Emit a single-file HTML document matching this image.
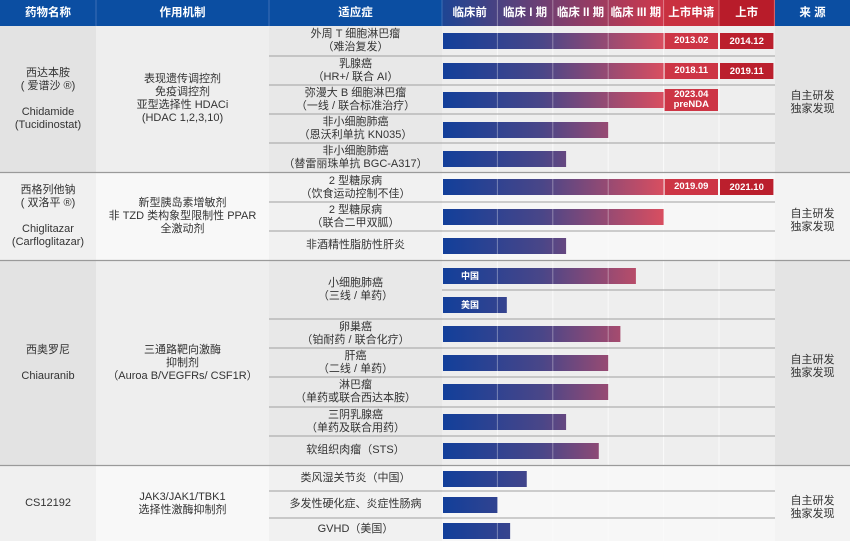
<!DOCTYPE html>
<html><head><meta charset="utf-8">
<style>
body{margin:0;width:850px;height:541px;overflow:hidden;background:#fff;font-family:"Liberation Sans","Noto Sans CJK SC",sans-serif;}
#root{position:relative;width:850px;height:541px;}
.c{position:absolute;display:flex;align-items:center;justify-content:center;text-align:center;font-size:11px;line-height:13px;color:#333;box-sizing:border-box;}
.h{color:#fff;font-weight:bold;font-size:11.5px;top:0;height:26px;}
</style></head><body>
<div id="root">
<svg id="bg" width="850" height="541" style="position:absolute;left:0;top:0">
<defs>
<linearGradient id="hg" gradientUnits="userSpaceOnUse" x1="442" x2="664" y1="0" y2="0"><stop offset="0" stop-color="#1d4594"/><stop offset="1" stop-color="#d0384b"/></linearGradient>
<linearGradient id="bg1" gradientUnits="userSpaceOnUse" x1="443" x2="664" y1="0" y2="0"><stop offset="0" stop-color="#123f9a"/><stop offset="0.45" stop-color="#4a4688"/><stop offset="1" stop-color="#d94e60"/></linearGradient>
</defs>
</svg>
</div>
<script>
// chart data
const indications=["外周 T 细胞淋巴瘤|（难治复发）","乳腺癌|（HR+/ 联合 AI）","弥漫大 B 细胞淋巴瘤|（一线 / 联合标准治疗）","非小细胞肺癌|（恩沃利单抗 KN035）","非小细胞肺癌|（替雷丽珠单抗 BGC-A317）","2 型糖尿病|（饮食运动控制不佳）","2 型糖尿病|（联合二甲双胍）","非酒精性脂肪性肝炎","小细胞肺癌|（三线 / 单药）","卵巢癌|（铂耐药 / 联合化疗）","肝癌|（二线 / 单药）","淋巴瘤|（单药或联合西达本胺）","三阴乳腺癌|（单药及联合用药）","软组织肉瘤（STS）","类风湿关节炎（中国）","多发性硬化症、炎症性肠病","GVHD（美国）"];
const barProgress=[6,6,4,3,2.24,6,4,2.24,3.5,1.17,3.22,3,3,2.24,2.83,1.53,1.0,1.23];
const barLabels=["","","","","","","","","中国","美国","","","","","","","",""];
const filingDates=["2013.02","2018.11","2023.04|preNDA","","","2019.09","","","","","","","","","","","",""];
const approvalDates=["2014.12","2019.11","","","","2021.10","","","","","","","","","","","",""];
const phases=["临床前","临床 I 期","临床 II 期","临床 III 期","上市申请","上市"];

// layout
const PX0=442,PW=55.4;
const xs=v=>PX0+v*PW;
const barY=[41,71,100,130,159,187,217,246,276,305,334,363,392,422,451,479,505,531];
const rowBounds=[[26,56],[56,85],[85,114],[114,143],[143,172],[173,202],[202,231],[231,260],[261,319],[319,348],[348,377],[377,407],[407,436],[436,465],[466,491],[491,518],[518,541]];
const groups=[[26,172,"西达本胺|( 爱谱沙 ®)||Chidamide|(Tucidinostat)","表现遗传调控剂|免疫调控剂|亚型选择性 HDACi|(HDAC 1,2,3,10)",true],[173,260,"西格列他钠|( 双洛平 ®)||Chiglitazar|(Carfloglitazar)","新型胰岛素增敏剂|非 TZD 类构象型限制性 PPAR|全激动剂",false],[261,465,"西奥罗尼||Chiauranib","三通路靶向激酶|抑制剂|（Auroa B/VEGFRs/ CSF1R）",true],[466,541,"CS12192","JAK3/JAK1/TBK1|选择性激酶抑制剂",false]];
const svg=document.getElementById('bg'),root=document.getElementById('root'),NS="http://www.w3.org/2000/svg";
function R(x,y,w,h,f,n){const r=document.createElementNS(NS,'rect');r.setAttribute('x',x);r.setAttribute('y',y);r.setAttribute('width',w);r.setAttribute('height',h);r.setAttribute('fill',f);


svg.appendChild(r);return r;}
function L(x1,y1,x2,y2,c,w){const l=document.createElementNS(NS,'line');l.setAttribute('x1',x1);l.setAttribute('y1',y1);l.setAttribute('x2',x2);l.setAttribute('y2',y2);l.setAttribute('stroke',c);l.setAttribute('stroke-width',w);


svg.appendChild(l);}
function C(x,y,w,h,html,n,extra){const d=document.createElement('div');d.className='c'+(extra||'');d.style.left=x+'px';d.style.top=y+'px';d.style.width=w+'px';d.style.height=h+'px';d.innerHTML=html.split('|').join('<br>');


root.appendChild(d);return d;}
// group backgrounds
groups.forEach((g,i)=>{const dark=g[4];const h=g[1]-g[0];
R(0,g[0],96,h,dark?'#e3e3e3':'#f0f0f0','drug-cell-bg');
R(96,g[0],173,h,dark?'#eeeeee':'#f8f8f8','mechanism-cell-bg');
R(269,g[0],173,h,dark?'#e8e8e8':'#f1f1f1','indication-cell-bg');
R(442,g[0],333,h,dark?'#eeeeee':'#f7f7f7','phase-area-bg');
R(775,g[0],75,h,dark?'#e4e4e4':'#f3f3f3','source-cell-bg');
C(0,g[0],96,h,g[2],'drug-name');
C(96,g[0],173,h,g[3],'mechanism');
C(775,g[0]+4,75,h,'自主研发|独家发现','source-label');
});
for(let k=1;k<6;k++)L(xs(k),26,xs(k),541,'#fafafa',1);
// header
R(0,0,850,26,'#0b4ea2','header-bg');
R(442,0,222,26,'url(#hg)','phase-header-gradient');
R(664,0,55,26,'#c9303f','filing-header-bg');
R(719,0,56,26,'#b81c2a','approval-header-bg');
[[0,96,'药物名称'],[96,173,'作用机制'],[269,173,'适应症'],[775,75,'来 源']].forEach(h=>C(h[0],0,h[1],26,h[2],'header-label',' h'));
phases.forEach((p,i)=>C(xs(i),0,PW,26,p,'phase-header',' h'));
[96,269,442].forEach(x=>L(x,0,x,26,'#3d6fb5',1));
for(let k=1;k<=6;k++)L(xs(k),0,xs(k),26,'rgba(255,255,255,0.35)',1);
// indication rows
rowBounds.forEach((b,i)=>{C(269,b[0],173,b[1]-b[0],indications[i],'indication-label');
if(i<rowBounds.length-1 && rowBounds[i+1][0]-b[1]<1) L(269,b[1],775,b[1],'#a0a0a0',1);});
L(442,290,775,290,'#a0a0a0',1);
[172.5,260.5,465.5].forEach(y=>L(0,y,850,y,'#9a9a9a',1.2));
// bars
barProgress.forEach((v,i)=>{const y=barY[i];const endX=Math.min(xs(v),xs(4));
R(443,y-8,endX-443,16,'url(#bg1)','progress-bar');
for(let k=1;k<4;k++)if(xs(k)<endX-2)L(xs(k),y-8,xs(k),y+8,'rgba(255,255,255,0.35)',1);
if(barLabels[i])C(443,y-8,54,16,barLabels[i],'bar-region-label',' lbl').style.cssText+=';color:#fff;font-size:9px;font-weight:bold;';
if(filingDates[i]){const two=filingDates[i].includes('|');const hh=two?22:16;
R(xs(4)+1,y-hh/2,PW-2,hh,'#cd3545','filing-date-box');
C(xs(4)+1,y-hh/2,PW-2,hh,filingDates[i],'filing-date').style.cssText+=';color:#fff;font-size:9.5px;font-weight:bold;line-height:10px;';}
if(approvalDates[i]){R(xs(5)+1,y-8,PW-2,16,'#bb1f2d','approval-date-box');
C(xs(5)+1,y-8,PW-2,16,approvalDates[i],'approval-date').style.cssText+=';color:#fff;font-size:9.5px;font-weight:bold;';}
});
</script>
</body></html>
